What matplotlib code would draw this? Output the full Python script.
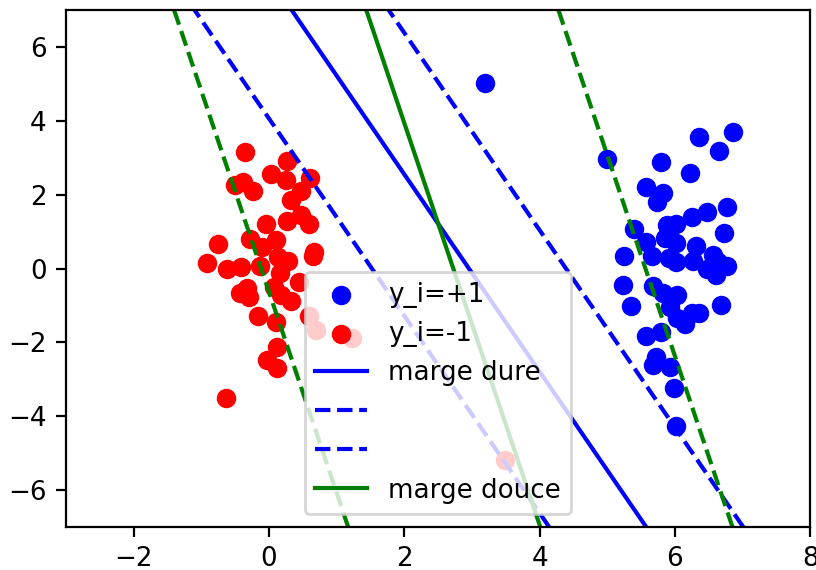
import numpy as np
import matplotlib
matplotlib.use('Agg')
import matplotlib.pyplot as plt

# points of class +1
x_pos = [6.35, 6.86, 6.66, 5.00, 5.79, 6.23, 5.58, 5.83, 5.73, 6.77, 6.48, 6.26,
         5.88, 6.02, 5.40, 6.72, 5.58, 5.85, 6.01, 6.31, 5.25, 5.66, 5.92, 6.02,
         6.27, 6.57, 6.64, 6.77, 6.47, 6.61, 5.24, 5.67, 5.83, 6.03, 5.35, 5.93,
         6.68, 6.25, 6.36, 6.03, 6.15, 5.57, 5.79, 5.72, 5.67, 5.93, 5.99, 6.01, 3.19]
y_pos = [3.57, 3.70, 3.19, 2.96, 2.88, 2.58, 2.20, 2.05, 1.81, 1.67, 1.52, 1.40,
         1.18, 1.20, 1.06, 0.95, 0.73, 0.82, 0.70, 0.61, 0.35, 0.35, 0.28, 0.19,
         0.21, 0.37, 0.19, 0.07, -0.02, -0.18, -0.45, -0.47, -0.67, -0.72, -1.02, -1.03,
         -0.99, -1.21, -1.21, -1.35, -1.50, -1.83, -1.71, -2.40, -2.61, -2.68, -3.24, -4.26, 5.02]

# points of class -1
x_neg = [-0.36, 0.27, 0.035, 0.25, 0.61, -0.51, -0.385, -0.23, 0.48, 0.33, -0.04, 0.26,
         0.48, 0.59, -0.76, -0.28, -0.11, 0.11, 0.66, 0.65, -0.92, -0.62, -0.41, -0.14,
         0.13, 0.28, 0.16, 0.44, -0.33, -0.43, -0.29, 0.08, 0.18, 0.32, -0.16, 0.11,
         0.59, 0.70, 1.22, 0.12, -0.03, 0.12, -0.63, 3.49]
y_neg = [3.16, 2.92, 2.56, 2.40, 2.44, 2.26, 2.35, 2.11, 2.10, 1.85, 1.20, 1.29,
         1.45, 1.21, 0.66, 0.80, 0.57, 0.77, 0.46, 0.34, 0.16, -0.02, 0.03, 0.07,
         0.32, 0.21, -0.13, -0.36, -0.54, -0.67, -0.76, -0.49, -0.72, -0.87, -1.28, -1.44,
         -1.29, -1.67, -1.87, -2.13, -2.48, -2.70, -3.51, -5.19]

# separating hyperplanes w.x + b = 0
w_dure = [0.697, 0.261]
b_dure = -2.06
w_douce = [0.352, 0.0647]
b_douce = -0.959

plt.rcParams['font.size'] = 9.4

fig = plt.figure(figsize=(4.08, 2.85), dpi=200)
ax = fig.add_axes([0.081, 0.0754, 0.9118, 0.907])

h1 = ax.scatter(x_pos, y_pos, c='b')
h2 = ax.scatter(x_neg, y_neg, c='r')

yy = np.array([-7.0, 7.0])


def line_x(w, b, c):
    return (c - b - w[1] * yy) / w[0]


l1, = ax.plot(line_x(w_dure, b_dure, 0), yy, 'b-')
l2, = ax.plot(line_x(w_dure, b_dure, -1), yy, 'b--')
l3, = ax.plot(line_x(w_dure, b_dure, 1), yy, 'b--')
l4, = ax.plot(line_x(w_douce, b_douce, 0), yy, 'g-')
ax.plot(line_x(w_douce, b_douce, -1), yy, 'g--')
ax.plot(line_x(w_douce, b_douce, 1), yy, 'g--')

ax.set_xlim(-3, 8)
ax.set_ylim(-7, 7)
ax.legend([h1, h2, l1, l2, l3, l4],
          ['y_i=+1', 'y_i=-1', 'marge dure', '', '', 'marge douce'],
          loc='lower center')

fig.savefig('out.png', dpi=200)
